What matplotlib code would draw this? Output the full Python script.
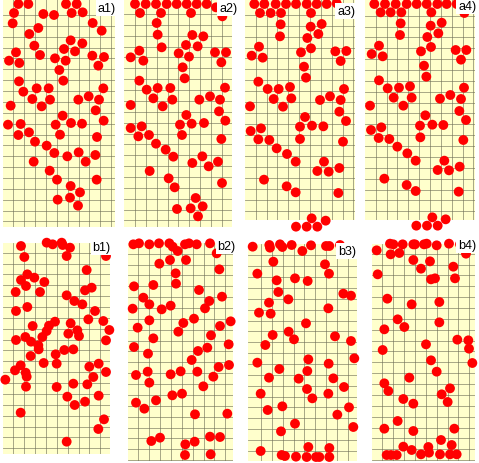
import matplotlib
matplotlib.use("Agg")
import matplotlib.pyplot as plt
import numpy as np

# ---- data: circle centres per panel (panel-local units, y downward) ----
a1_x = [55, 85, 198, 230, 42, 130, 162, 215, 248, 38, 278, 115, 88, 305, 212, 247, 103, 192, 225, 48, 120,
        27, 58, 165, 197, 277, 312, 295, 178, 190, 57, 70, 110, 146, 310, 97, 150, 235, 266, 297, 32, 125,
        287, 188, 24, 62, 167, 213, 246, 311, 55, 87, 180, 291, 105, 140, 163, 202, 236, 286, 257, 101,
        149, 171, 290, 212, 240, 173, 210, 234]
a1_y = [15, 15, 15, 15, 42, 45, 48, 42, 40, 73, 72, 87, 105, 95, 124, 133, 140, 150, 157, 160, 168,
        185, 192, 178, 185, 170, 174, 200, 213, 245, 247, 278, 268, 268, 268, 300, 302, 302, 292, 302, 320, 322,
        334, 350, 377, 375, 377, 372, 374, 365, 408, 400, 407, 414, 428, 440, 462, 472, 460, 468, 488, 488,
        515, 542, 542, 561, 580, 602, 596, 620]

a2_x = [45, 77, 108, 140, 170, 200, 230, 260, 288, 307, 60, 123, 213, 110, 113, 217, 250, 125, 198, 233,
        58, 32, 70, 176, 207, 285, 318, 304, 188, 194, 58, 80, 113, 151, 315, 100, 157, 238, 270, 300,
        32, 128, 297, 199, 32, 65, 180, 215, 252, 316, 55, 87, 186, 304, 108, 137, 160, 247, 217, 266, 294,
        89, 146, 164, 306, 227, 248, 212, 171, 234]
a2_y = [15, 15, 15, 15, 15, 15, 15, 15, 25, 52, 42, 42, 42, 72, 107, 108, 112, 145, 138, 142,
        155, 175, 185, 163, 173, 160, 160, 190, 205, 238, 245, 272, 267, 267, 266, 298, 302, 302, 292, 302,
        318, 322, 337, 348, 387, 382, 377, 374, 372, 365, 412, 408, 408, 420, 434, 452, 473, 472, 492, 502, 488,
        516, 538, 565, 552, 597, 622, 628, 630, 652]

a3_x = [43, 73, 107, 138, 168, 200, 230, 260, 290, 313, 60, 92, 123, 213, 122, 212, 245, 120, 202, 235,
        57, 35, 68, 183, 213, 286, 319, 302, 192, 198, 55, 83, 116, 150, 312, 101, 154, 240, 270, 302,
        30, 129, 298, 195, 180, 216, 250, 318, 32, 63, 55, 88, 180, 309, 110, 141, 167, 252, 232, 266, 298,
        72, 140, 167, 295, 215, 257, 168, 200, 232]
a3_y = [15, 15, 15, 15, 15, 15, 15, 15, 13, 45, 42, 42, 42, 42, 76, 83, 75, 112, 117, 105,
        143, 170, 176, 160, 148, 157, 156, 186, 203, 236, 248, 270, 270, 264, 270, 300, 298, 303, 292, 303,
        322, 323, 338, 354, 383, 380, 382, 366, 396, 388, 421, 423, 420, 428, 448, 465, 488, 488, 516, 518, 507,
        542, 562, 580, 582, 658, 665, 683, 683, 683]

a4_x = [43, 75, 107, 140, 170, 200, 232, 260, 290, 313, 62, 92, 124, 214, 122, 212, 245, 120, 202, 235,
        57, 35, 68, 183, 213, 287, 319, 303, 192, 199, 57, 83, 117, 150, 312, 101, 155, 240, 271, 303,
        30, 130, 298, 196, 180, 217, 250, 318, 33, 64, 56, 88, 181, 310, 112, 142, 167, 253, 233, 267, 299,
        73, 140, 167, 296, 217, 257, 169, 201, 233]
a4_y = [15, 15, 15, 15, 15, 15, 15, 15, 15, 42, 40, 40, 40, 40, 73, 80, 71, 108, 114, 103,
        140, 165, 172, 157, 144, 153, 153, 182, 200, 233, 244, 268, 266, 262, 266, 296, 296, 299, 288, 300,
        320, 320, 336, 349, 380, 377, 378, 363, 393, 385, 417, 420, 415, 423, 443, 463, 485, 485, 513, 514, 503,
        539, 558, 576, 578, 655, 661, 680, 680, 680]

b1_x = [140, 158, 185, 188, 210, 63, 318, 200, 73, 260, 82, 63, 103, 133, 78, 47, 120, 255, 275,
        200, 223, 247, 285, 82, 48, 265, 310, 328, 165, 147, 212, 98, 140, 127, 205, 232, 237,
        48, 76, 93, 318, 115, 116, 193, 220, 92, 167, 131, 170, 296, 268, 318,
        62, 45, 77, 80, 16, 280, 78, 170, 220, 262, 202, 296, 255, 224, 62, 312, 295, 200]
b1_y = [35, 40, 35, 42, 50, 45, 75, 75, 78, 117, 130, 147, 140, 153, 165, 183, 183, 178, 170,
        193, 210, 220, 240, 228, 240, 265, 270, 297, 272, 284, 277, 285, 300, 318, 308, 298, 315,
        327, 318, 332, 328, 343, 355, 357, 355, 375, 370, 396, 398, 398, 407, 423,
        403, 418, 425, 437, 446, 438, 467, 468, 458, 460, 497, 494, 512, 522, 545, 565, 594, 632]

b2_x = [40, 57, 88, 117, 148, 158, 173, 195, 207, 230, 270, 290, 118, 150, 198, 298, 167, 168,
        42, 100, 237, 70, 88, 125, 152, 38, 268, 306, 255, 88, 190, 222, 332, 300, 53, 175, 273,
        100, 326, 42, 262, 234, 84, 215, 48, 83, 88, 152, 182, 232, 280, 296, 327, 250,
        157, 186, 48, 108, 73, 225, 322, 94, 120, 224, 270, 300, 196, 195, 272]
b2_y = [40, 37, 40, 37, 37, 47, 60, 40, 37, 40, 37, 67, 98, 87, 87, 115, 127, 158,
        166, 162, 177, 200, 220, 235, 224, 233, 210, 197, 232, 268, 276, 263, 271, 285, 290, 302, 313,
        322, 340, 348, 350, 360, 368, 387, 432, 422, 455, 430, 421, 422, 437, 408, 402, 466,
        493, 488, 515, 508, 533, 550, 548, 630, 620, 632, 617, 618, 640, 672, 670]

b3_x = [38, 88, 90, 120, 127, 155, 187, 213, 258, 268, 300, 100, 255, 52, 267, 110, 165, 203,
        115, 145, 310, 333, 87, 265, 57, 92, 198, 146, 162, 98, 285, 333, 76, 205, 343, 52, 266,
        118, 202, 87, 176, 280, 312, 201, 62, 217, 265, 83, 127, 327, 292, 165, 340, 123,
        62, 205, 268, 125, 135, 168, 200, 228, 238, 268]
b3_y = [47, 42, 50, 40, 48, 42, 60, 43, 45, 45, 42, 92, 100, 128, 128, 148, 142, 150,
        183, 205, 188, 194, 215, 232, 245, 248, 277, 302, 325, 312, 316, 330, 342, 385, 382, 395, 398,
        414, 420, 440, 443, 442, 468, 474, 488, 502, 488, 537, 526, 529, 551, 578, 588, 601,
        660, 648, 651, 672, 675, 677, 678, 678, 678, 678]

b4_x = [90, 100, 128, 160, 165, 192, 200, 230, 267, 300, 50, 318, 92, 118, 160, 210, 280, 183,
        53, 213, 225, 285, 82, 155, 238, 113, 238, 133, 73, 292, 325, 327, 198, 68, 213, 337,
        230, 148, 73, 85, 270, 245, 263, 130, 160, 113, 73, 160, 283, 243, 130, 155, 205, 275,
        80, 93, 110, 183, 207, 240, 270, 290]
b4_y = [38, 40, 40, 40, 40, 40, 38, 43, 38, 40, 58, 68, 70, 66, 87, 91, 107, 113,
        130, 145, 142, 142, 203, 220, 213, 265, 274, 288, 295, 326, 328, 353, 340, 357, 388, 396,
        422, 440, 457, 480, 472, 490, 513, 504, 518, 570, 593, 600, 593, 627, 647, 657, 648, 642,
        672, 672, 672, 670, 665, 670, 670, 670]

labels = ["a1)", "a2)", "a3)", "a4)", "b1)", "b2)", "b3)", "b4)"]
xs = [a1_x, a2_x, a3_x, a4_x, b1_x, b2_x, b3_x, b4_x]
ys = [a1_y, a2_y, a3_y, a4_y, b1_y, b2_y, b3_y, b4_y]

# ---- layout (styling) ----
W, H = 479, 464
origins = [(0, 0), (120, 0), (240, 0), (360, 0), (0, 232), (120, 232), (240, 232), (360, 232)]
# yellow rect in panel-local units: x0, x1, y0, y1
rects = [(8, 345, 0, 685), (12, 335, 0, 685), (15, 345, 0, 662), (15, 345, 0, 662),
         (10, 330, 35, 670), (25, 340, 35, 690), (25, 350, 40, 690), (35, 345, 40, 690)]
grid0 = [(40, 48), (45, 45), (47, 48), (47, 50), (40, 65), (55, 68), (63, 73), (67, 68)]
label_pos = [(320, 28), (325, 28), (318, 35), (322, 22), (305, 47), (320, 45), (322, 60), (322, 42)]
step = 32.6
S = 3.0  # panel-local units per pixel

fig = plt.figure(figsize=(W / 100, H / 100), dpi=100)
fig.patch.set_facecolor("white")

for i in range(8):
    ox, oy = origins[i]
    x0, x1, y0, y1 = rects[i]
    left = (ox + x0 / S) / W
    width = (x1 - x0) / S / W
    top = (oy + y0 / S) / H
    height = (y1 - y0) / S / H
    ax = fig.add_axes([left, 1 - top - height, width, height])
    ax.set_facecolor("#ffffcc")
    ax.set_xlim(x0, x1)
    ax.set_ylim(y1, y0)
    gx, gy = grid0[i]
    ax.set_xticks(np.arange(gx, x1, step))
    ax.set_yticks(np.arange(gy, y1, step))
    ax.grid(True, color="#6e6e55", linewidth=0.6, alpha=0.7)
    ax.tick_params(length=0, labelbottom=False, labelleft=False)
    for sp in ax.spines.values():
        sp.set_visible(False)
    ax.scatter(xs[i], ys[i], s=50, color="#ff0000", edgecolors="none", zorder=3, clip_on=False)
    lx, ly = label_pos[i]
    ax.text(lx, ly, labels[i], fontsize=9, family=["Liberation Sans", "DejaVu Sans"], color="black",
            ha="center", va="center", zorder=5,
            bbox=dict(boxstyle="square,pad=0.15", facecolor="white", edgecolor="none"))

fig.savefig("out.png", dpi=100)
